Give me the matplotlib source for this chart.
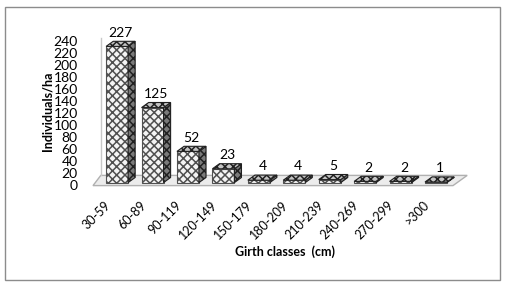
import numpy as np
import matplotlib.pyplot as plt
from matplotlib.patches import Polygon, Rectangle

classes = ['30-59', '60-89', '90-119', '120-149', '150-179', '180-209',
           '210-239', '240-269', '270-299', '>300']
individuals = [227, 125, 52, 23, 4, 4, 5, 2, 2, 1]
yticks = list(range(0, 241, 20))

plt.rcParams['font.family'] = ['Lato', 'DejaVu Sans']
plt.rcParams['hatch.linewidth'] = 1.1

W, H = 506, 287
fig = plt.figure(figsize=(W / 100, H / 100), dpi=100)

# chart area border
fig.patches.append(Rectangle((5 / W, 1 - 280 / H), 495 / W, 273 / H,
                             transform=fig.transFigure, fill=False,
                             edgecolor='#8c8c8c', lw=1.0))

ax = fig.add_axes([93 / W, 1 - 185 / H, 360 / W, 144 / H])
ax.set_xlim(-0.68, 9.48)
ax.set_ylim(0, 240)
for s in ax.spines.values():
    s.set_visible(False)

bw = 0.31      # half width of bar front face
dx, dy = 0.2, 8.5  # depth offset

# floor and back wall edge
fx0, fx1 = -0.68, 9.48
ax.add_patch(Polygon([(fx0, -1), (fx1, -1), (fx1 + 0.4, 16), (fx0 + 0.22, 16)],
                     closed=True, facecolor='#ececec', edgecolor='#b0b0b0',
                     lw=1.0, clip_on=False, zorder=1))
ax.plot([fx0 + 0.22, fx0 + 0.22], [16, 245], color='#c8c8c8', lw=1.0,
        clip_on=False, zorder=1)

x = np.arange(len(classes))
for xi, v in zip(x, individuals):
    b = 4
    front = [(xi - bw, b), (xi + bw, b), (xi + bw, b + v), (xi - bw, b + v)]
    side = [(xi + bw, b), (xi + bw + dx, b + dy), (xi + bw + dx, b + v + dy),
            (xi + bw, b + v)]
    top = [(xi - bw, b + v), (xi + bw, b + v), (xi + bw + dx, b + v + dy),
           (xi - bw + dx, b + v + dy)]
    ax.add_patch(Polygon(front, closed=True, facecolor='#f4f4f4', hatch='xxxx',
                         edgecolor='#505050', lw=0.8, clip_on=False, zorder=3))
    ax.add_patch(Polygon(side, closed=True, facecolor='#7a7a7a', hatch='xxxx',
                         edgecolor='#202020', lw=0.8, clip_on=False, zorder=3))
    ax.add_patch(Polygon(top, closed=True, facecolor='#c4c4c4', hatch='xxxx',
                         edgecolor='#202020', lw=0.8, clip_on=False, zorder=3))
    ax.annotate(str(v), (xi + dx / 2, b + v + dy), xytext=(0, 2),
                textcoords='offset points', ha='center', va='bottom',
                fontsize=10, color='black', annotation_clip=False)

ax.set_yticks(yticks)
ax.set_yticklabels([str(t) for t in yticks], fontsize=10)
ax.tick_params(axis='y', length=0, pad=11)
ax.set_xticks(x - 0.12)
ax.set_xticklabels(classes, rotation=45, ha='right', fontsize=9)
ax.tick_params(axis='x', length=0, pad=10)

fig.text(48 / W, 1 - 111 / H, 'Individuals/ha', rotation=90, ha='center',
         va='center', fontsize=9, fontweight='bold')
fig.text(285 / W, 1 - 252 / H, 'Girth classes  (cm)', ha='center',
         va='center', fontsize=9, fontweight='bold')

fig.savefig('out.png', dpi=100)
